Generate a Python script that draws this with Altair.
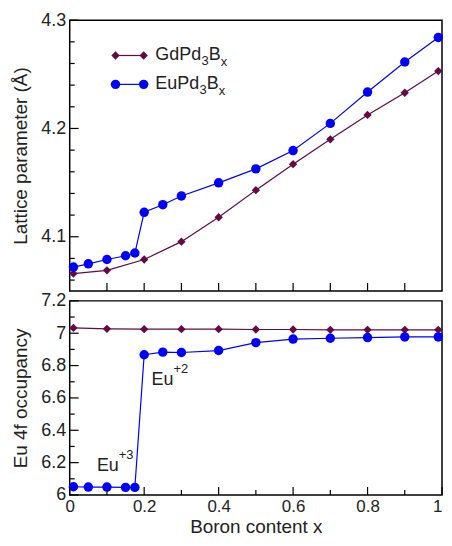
import altair as alt
import pandas as pd

FONT = "Liberation Sans"
GD_COLOR = "#660844"
EU_COLOR = "#0000ff"

# ---- data ----
gd_x = [0.01, 0.1, 0.2, 0.3, 0.4, 0.5, 0.6, 0.7, 0.8, 0.9, 0.99]
gd_lattice = [4.066, 4.069, 4.079, 4.0955, 4.118, 4.143, 4.167, 4.190, 4.2125, 4.233, 4.253]
gd_occ = [7.033, 7.027, 7.025, 7.025, 7.025, 7.023, 7.023, 7.021, 7.021, 7.021, 7.021]

eu_x = [0.01, 0.05, 0.1, 0.15, 0.175, 0.2, 0.25, 0.3, 0.4, 0.5, 0.6, 0.7, 0.8, 0.9, 0.99]
eu_lattice = [4.072, 4.075, 4.079, 4.0825, 4.085, 4.1226, 4.1296, 4.1377, 4.1498,
              4.1627, 4.1796, 4.2047, 4.2336, 4.2614, 4.284]
eu_occ = [6.051, 6.049, 6.049, 6.047, 6.047, 6.867, 6.883, 6.881, 6.893, 6.942,
          6.964, 6.969, 6.973, 6.977, 6.977]

# tick values
top_y_major = [4.1, 4.2, 4.3]
top_y_minor = [4.06, 4.08, 4.12, 4.14, 4.16, 4.18, 4.22, 4.24, 4.26, 4.28]
bot_y_major = [6.0, 6.2, 6.4, 6.6, 6.8, 7.0, 7.2]
bot_y_minor = [6.1, 6.3, 6.5, 6.7, 6.9, 7.1]
x_major = [0.0, 0.2, 0.4, 0.6, 0.8, 1.0]
x_minor = [0.1, 0.3, 0.5, 0.7, 0.9]
x_all_inner = [0.1, 0.2, 0.3, 0.4, 0.5, 0.6, 0.7, 0.8, 0.9]

# annotations
ann_x = [0.22, 0.073]
ann_y = [6.678, 6.146]
ann_base = ["Eu", "Eu"]
ann_sup = ["+2", "+3"]

TOP_H = 272
BOT_H = 195
W = 374

gd = pd.DataFrame({"x": gd_x, "lattice": gd_lattice, "occ": gd_occ})
eu = pd.DataFrame({"x": eu_x, "lattice": eu_lattice, "occ": eu_occ})

xscale = alt.Scale(domain=[0, 1], nice=False, zero=False)
top_yscale = alt.Scale(domain=[4.05, 4.3], nice=False, zero=False)
bot_yscale = alt.Scale(domain=[6.0, 7.2], nice=False, zero=False)

top_yaxis = alt.Axis(values=top_y_major, format="~g", title="Lattice parameter (Å)",
                     labelFlush=False, titlePadding=10)
top_xaxis = alt.Axis(labels=False, title=None, values=x_major)
bot_yaxis = alt.Axis(values=bot_y_major, format="~g", title="Eu 4f occupancy",
                     labelFlush=False, titlePadding=10)
bot_xaxis = alt.Axis(values=x_major, format="~g", title="Boron content x",
                     labelFlush=False, labelPadding=4, titlePadding=3, labelFontSize=17,
                     labelAlign=alt.ExprRef(expr="datum.value >= 1 ? 'right' : 'center'"))


def series_layers(ycol, yscale, yaxis, xaxis):
    layers = []
    for df, color, shape, size in [(gd, GD_COLOR, "diamond", 70), (eu, EU_COLOR, "circle", 90)]:
        base = alt.Chart(df)
        enc = dict(
            x=alt.X("x:Q", scale=xscale, axis=xaxis),
            y=alt.Y(f"{ycol}:Q", scale=yscale, axis=yaxis),
        )
        layers.append(base.mark_line(color=color, strokeWidth=1.2).encode(**enc))
        layers.append(base.mark_point(shape=shape, filled=True, opacity=1, size=size,
                                      color=color).encode(**enc))
    return layers


def ytick_layer(vals, yscale, yaxis, length):
    return alt.Chart(pd.DataFrame({"t": vals})).mark_rule(color="black", strokeWidth=1.2).encode(
        y=alt.Y("t:Q", scale=yscale, axis=yaxis),
        x=alt.value(0), x2=alt.value(length))


def xtick_layer(vals, xaxis, height, length):
    return alt.Chart(pd.DataFrame({"t": vals})).mark_rule(color="black", strokeWidth=1.2).encode(
        x=alt.X("t:Q", scale=xscale, axis=xaxis),
        y=alt.value(height), y2=alt.value(height - length))


# ---------- top panel ----------
top_layers = series_layers("lattice", top_yscale, top_yaxis, top_xaxis)
top_layers += [
    ytick_layer(top_y_major, top_yscale, top_yaxis, 9),
    ytick_layer(top_y_minor, top_yscale, top_yaxis, 5),
    xtick_layer(x_all_inner, top_xaxis, TOP_H, 8),
]

# legend (drawn inside the panel)
one = pd.DataFrame({"a": [0]})
leg_rows = [(35.5, GD_COLOR, "diamond", 70, "GdPd", 132.5, 139.7, 151.7),
            (64.5, EU_COLOR, "circle", 90, "EuPd", 130.5, 137.7, 149.7)]
for yy, color, shape, size, word, x3, xb, xx in leg_rows:
    top_layers.append(alt.Chart(one).mark_rule(color=color, strokeWidth=1.2).encode(
        x=alt.value(46), x2=alt.value(74.3), y=alt.value(yy)))
    for px in (46, 74.3):
        top_layers.append(alt.Chart(one).mark_point(shape=shape, filled=True, opacity=1,
                                                    size=size, color=color).encode(
            x=alt.value(px), y=alt.value(yy)))
    txt = dict(align="left", baseline="alphabetic", font=FONT, color="#222222")
    top_layers.append(alt.Chart(one).mark_text(text=word, fontSize=18, **txt).encode(
        x=alt.value(86), y=alt.value(yy + 5)))
    top_layers.append(alt.Chart(one).mark_text(text="3", fontSize=13, **txt).encode(
        x=alt.value(x3), y=alt.value(yy + 10)))
    top_layers.append(alt.Chart(one).mark_text(text="B", fontSize=18, **txt).encode(
        x=alt.value(xb), y=alt.value(yy + 5)))
    top_layers.append(alt.Chart(one).mark_text(text="x", fontSize=13, **txt).encode(
        x=alt.value(xx), y=alt.value(yy + 11)))

top = alt.layer(*top_layers).properties(width=W, height=TOP_H)

# ---------- bottom panel ----------
bot_layers = series_layers("occ", bot_yscale, bot_yaxis, bot_xaxis)
bot_layers += [
    ytick_layer(bot_y_major, bot_yscale, bot_yaxis, 9),
    ytick_layer(bot_y_minor, bot_yscale, bot_yaxis, 5),
    xtick_layer(x_major, bot_xaxis, BOT_H, 8),
    xtick_layer(x_minor, bot_xaxis, BOT_H, 5),
]
ann = pd.DataFrame({"x": ann_x, "y": ann_y, "base": ann_base, "sup": ann_sup})
ann_enc = dict(x=alt.X("x:Q", scale=xscale, axis=bot_xaxis),
               y=alt.Y("y:Q", scale=bot_yscale, axis=bot_yaxis))
bot_layers.append(alt.Chart(ann).mark_text(align="left", baseline="alphabetic", font=FONT,
                                           fontSize=18, color="#222222").encode(
    text="base:N", **ann_enc))
bot_layers.append(alt.Chart(ann).mark_text(align="left", baseline="alphabetic", font=FONT,
                                           fontSize=13, color="#222222", dx=22, dy=-12).encode(
    text="sup:N", **ann_enc))

bottom = alt.layer(*bot_layers).properties(width=W, height=BOT_H)

chart = alt.vconcat(top, bottom, spacing=10, bounds="flush").properties(
    padding={"left": 3, "top": 1, "right": 0, "bottom": 0}
).configure_view(
    stroke="black", strokeWidth=1.5
).configure_axis(
    domain=False, ticks=False, grid=False,
    labelFont=FONT, titleFont=FONT, labelFontSize=18, titleFontSize=19,
    titleFontWeight="normal", labelColor="#222222", titleColor="#222222",
    labelPadding=4,
)

chart.save("out.html", embed_options={"renderer": "svg", "actions": False})
